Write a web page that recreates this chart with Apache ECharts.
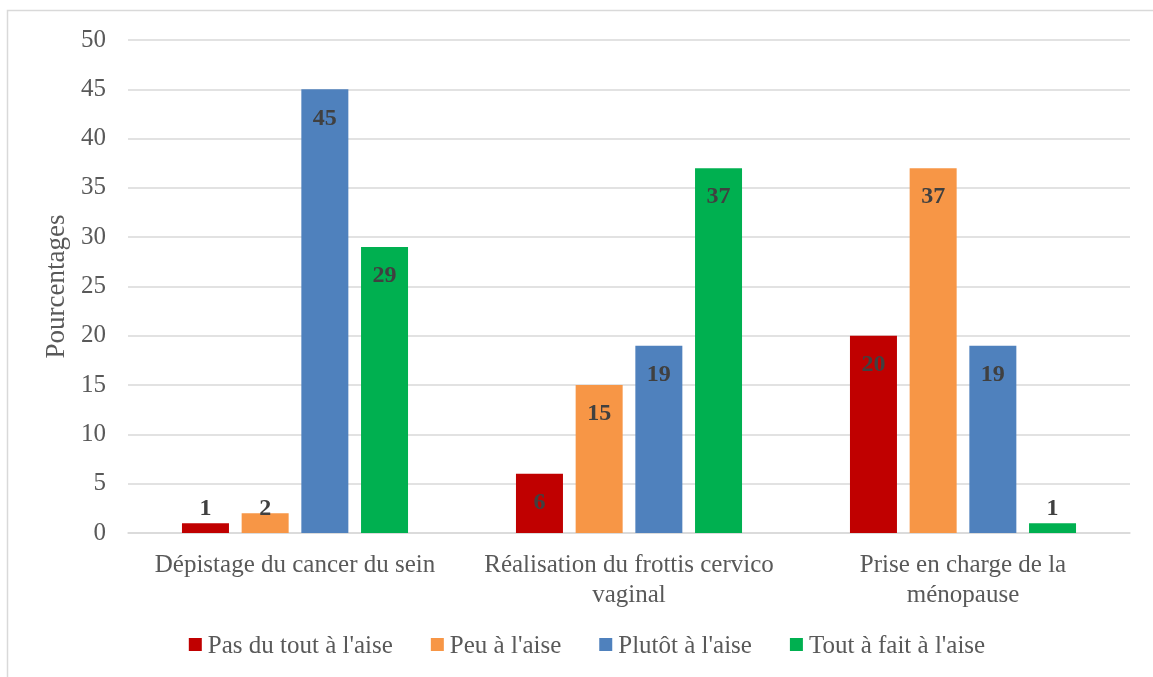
<!DOCTYPE html>
<html>
<head>
<meta charset="utf-8">
<script src="https://cdn.jsdelivr.net/npm/echarts@6/dist/echarts.min.js"></script>
<style>
  html, body { margin: 0; padding: 0; background: #ffffff; }
  #chart { width: 1153px; height: 677px; }
</style>
</head>
<body>
<div id="chart"></div>
<script>
// Survey data: comfort level per topic, in percent
const categories = [
  'Dépistage du cancer du sein',
  'Réalisation du frottis cervico\nvaginal',
  'Prise en charge de la\nménopause'
];
const seriesNames = ['Pas du tout à l\'aise', 'Peu à l\'aise', 'Plutôt à l\'aise', 'Tout à fait à l\'aise'];
const pasDuTout = [1, 6, 20];
const peu = [2, 15, 37];
const plutot = [45, 19, 19];
const toutAFait = [29, 37, 1];
const yTicks = { min: 0, max: 50, interval: 5 };

const colors = ['#C00000', '#F79646', '#4F81BD', '#00B050'];
const FONT = 'Liberation Serif';
const TEXT_COLOR = '#595959';

// Short bars get their value label placed just above the baseline
function buildData(values) {
  return values.map(v => v < 5
    ? { value: v, label: { position: 'insideBottom', distance: 12 } }
    : { value: v });
}

const allValues = [pasDuTout, peu, plutot, toutAFait];
const series = allValues.map((vals, i) => ({
  name: seriesNames[i],
  type: 'bar',
  data: buildData(vals),
  barWidth: 47,
  barGap: '27%',
  itemStyle: { color: colors[i] },
  label: {
    show: true,
    position: 'insideTop',
    distance: 17,
    fontFamily: FONT,
    fontWeight: 'bold',
    fontSize: 24,
    color: '#404040'
  }
}));

// Legend row below the plot: square swatch + serif label, centred
function buildLegend() {
  const fontSize = 25, swatch = 13, textGap = 6, itemGap = 38, centerX = 587, midY = 645;
  const ctx = document.createElement('canvas').getContext('2d');
  ctx.font = fontSize + 'px "' + FONT + '"';
  const widths = seriesNames.map(n => ctx.measureText(n).width);
  const total = widths.reduce((s, w) => s + swatch + textGap + w, 0) + itemGap * (seriesNames.length - 1);
  let x = centerX - total / 2;
  const items = [];
  seriesNames.forEach((name, i) => {
    items.push({
      type: 'rect',
      shape: { x: x, y: midY - 7, width: swatch, height: swatch },
      style: { fill: colors[i] }
    });
    items.push({
      type: 'text',
      x: x + swatch + textGap,
      y: midY + 1,
      style: {
        text: name,
        fontFamily: FONT,
        fontSize: fontSize,
        fill: TEXT_COLOR,
        verticalAlign: 'middle',
        align: 'left'
      }
    });
    x += swatch + textGap + widths[i] + itemGap;
  });
  return items;
}

const chart = echarts.init(document.getElementById('chart'), null, { renderer: 'canvas' });
chart.setOption({
  animation: false,
  backgroundColor: '#ffffff',
  textStyle: { fontFamily: FONT },
  graphic: [{
    type: 'rect',
    shape: { x: 7.5, y: 10.5, width: 1200, height: 800 },
    style: { fill: 'none', stroke: '#d9d9d9', lineWidth: 1.5 },
    z: -1
  }].concat(buildLegend()),
  grid: { left: 128, right: 23, top: 40, bottom: 144 },
  xAxis: {
    type: 'category',
    data: categories,
    axisTick: { show: false },
    axisLine: { lineStyle: { color: '#d9d9d9', width: 1.5 } },
    axisLabel: {
      interval: 0,
      fontFamily: FONT,
      fontSize: 25,
      color: TEXT_COLOR,
      margin: 17,
      lineHeight: 30,
      align: 'center'
    }
  },
  yAxis: {
    type: 'value',
    min: yTicks.min,
    max: yTicks.max,
    interval: yTicks.interval,
    name: 'Pourcentages',
    nameLocation: 'middle',
    nameGap: 54,
    nameRotate: 90,
    nameTextStyle: { fontFamily: FONT, fontSize: 27, color: TEXT_COLOR },
    axisLine: { show: false },
    axisTick: { show: false },
    splitLine: { lineStyle: { color: '#d9d9d9', width: 1.5 } },
    axisLabel: { fontFamily: FONT, fontSize: 25, color: TEXT_COLOR, margin: 22 }
  },
  series: series
});
</script>
</body>
</html>
